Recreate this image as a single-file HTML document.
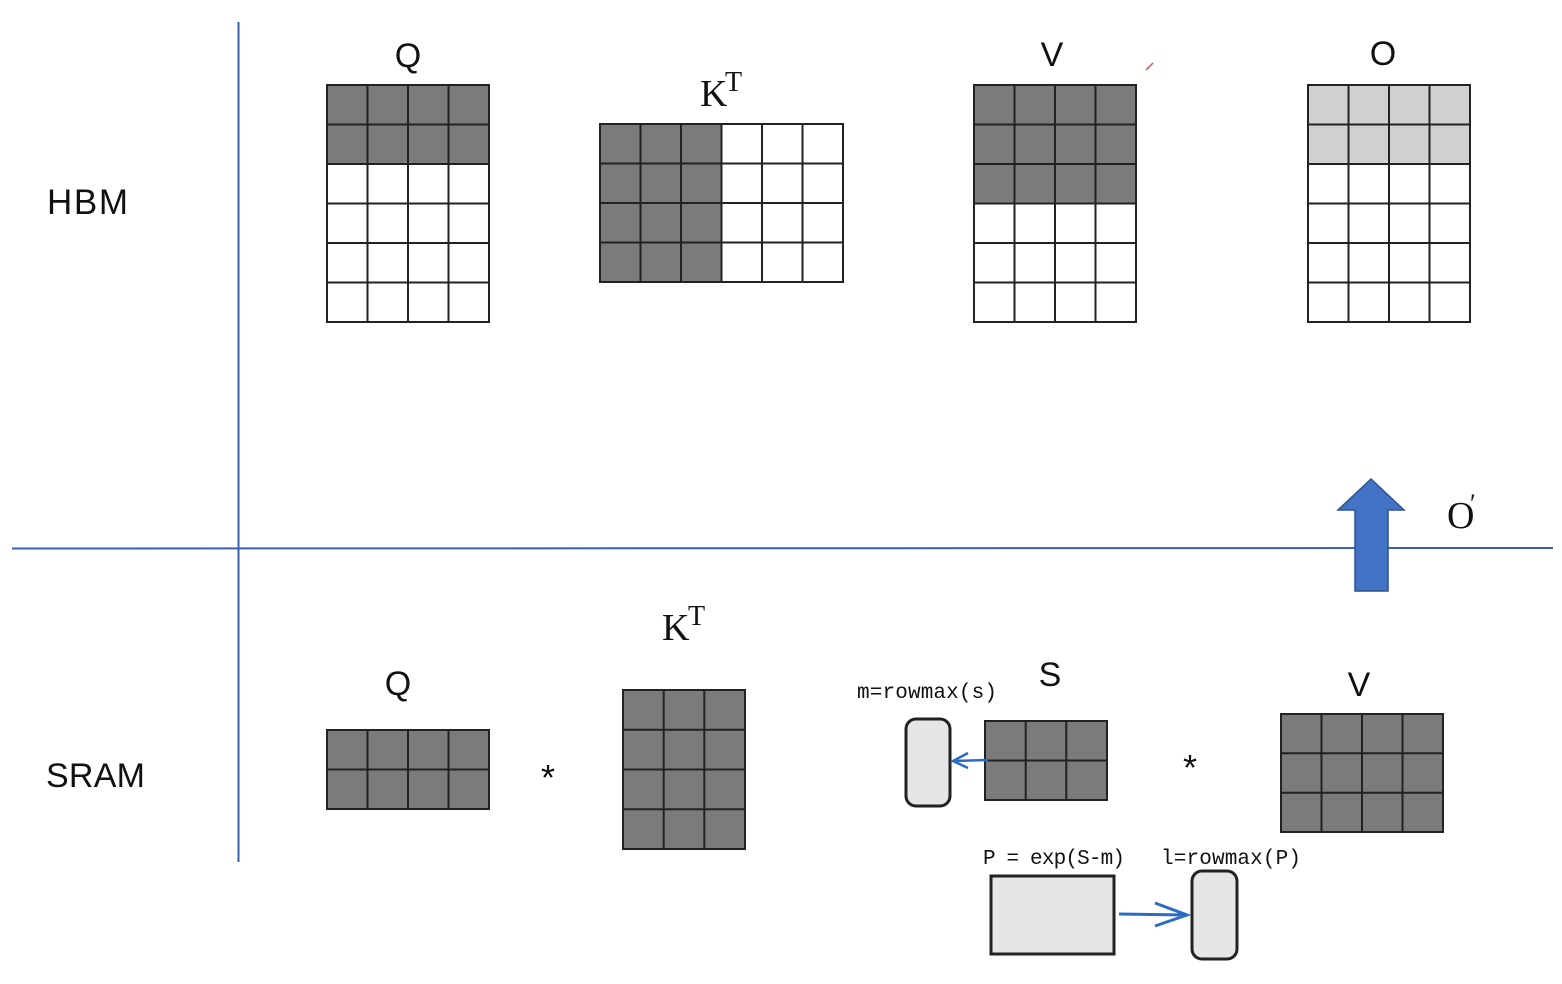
<!DOCTYPE html>
<html><head><meta charset="utf-8"><style>
html,body{margin:0;padding:0;background:#fff;}
svg{display:block}
.g{fill:none;stroke:#222;stroke-width:2}
.s{font-family:"Liberation Sans",sans-serif;fill:#111}
.r{font-family:"Liberation Serif",serif;fill:#111}
.m{font-family:"Liberation Mono",monospace;fill:#111;font-size:21px}
</style></head><body>
<svg width="1562" height="984" viewBox="0 0 1562 984" xmlns="http://www.w3.org/2000/svg">
<rect width="1562" height="984" fill="#fff"/>
<line x1="238.5" y1="22" x2="238.5" y2="862" stroke="#3a5fb0" stroke-width="2"/>
<line x1="12" y1="548.5" x2="1553" y2="548" stroke="#3a5fb0" stroke-width="2"/>

<rect x="327" y="85" width="162" height="79" fill="#7b7b7b"/>
<rect x="327" y="85" width="162" height="237" class="g"/>
<path class="g" d="M367.5 85V322M408 85V322M448.5 85V322M327 124.5H489M327 164H489M327 203.5H489M327 243H489M327 282.5H489"/>
<rect x="600" y="124" width="121.5" height="158" fill="#7b7b7b"/>
<rect x="600" y="124" width="243" height="158" class="g"/>
<path class="g" d="M640.5 124V282M681 124V282M721.5 124V282M762 124V282M802.5 124V282M600 163.5H843M600 203H843M600 242.5H843"/>
<rect x="974" y="85" width="162" height="118.5" fill="#7b7b7b"/>
<rect x="974" y="85" width="162" height="237" class="g"/>
<path class="g" d="M1014.5 85V322M1055 85V322M1095.5 85V322M974 124.5H1136M974 164H1136M974 203.5H1136M974 243H1136M974 282.5H1136"/>
<rect x="1308" y="85" width="162" height="79" fill="#d0d0d0"/>
<rect x="1308" y="85" width="162" height="237" class="g"/>
<path class="g" d="M1348.5 85V322M1389 85V322M1429.5 85V322M1308 124.5H1470M1308 164H1470M1308 203.5H1470M1308 243H1470M1308 282.5H1470"/>

<text x="408" y="67" text-anchor="middle" class="s" font-size="34">Q</text>
<text x="700" y="106" class="r" font-size="38">K</text>
<text x="725" y="91" class="r" font-size="28">T</text>
<text x="1052" y="66" text-anchor="middle" class="s" font-size="34">V</text>
<text x="1383" y="65" text-anchor="middle" class="s" font-size="34">O</text>
<text x="47" y="214" class="s" font-size="35" textLength="81">HBM</text>
<text x="46" y="787" class="s" font-size="34" textLength="99">SRAM</text>
<line x1="1146" y1="70" x2="1153" y2="63" stroke="#c55" stroke-width="1.5"/>

<path d="M1371 479L1404 510H1388V591H1355V510H1338Z" fill="#4472c4" stroke="#2f528f" stroke-width="1.5"/>
<text x="1447" y="528" class="r" font-size="38">O</text>
<text x="1470" y="512" class="r" font-size="26">′</text>

<rect x="327" y="730" width="162" height="79" class="g" style="fill:#7b7b7b"/>
<path class="g" d="M367.5 730V809M408 730V809M448.5 730V809M327 769.5H489"/>
<text x="398" y="695" text-anchor="middle" class="s" font-size="34">Q</text>
<text x="548" y="790" text-anchor="middle" class="s" font-size="36">*</text>
<rect x="623" y="690" width="122" height="159" class="g" style="fill:#7b7b7b"/>
<path class="g" d="M663.7 690V849M704.3 690V849M623 729.75H745M623 769.5H745M623 809.25H745"/>
<text x="662" y="640" class="r" font-size="38">K</text>
<text x="688" y="625" class="r" font-size="28">T</text>
<rect x="985" y="721" width="122" height="79" class="g" style="fill:#7b7b7b"/>
<path class="g" d="M1025.7 721V800M1066.3 721V800M985 760.5H1107"/>
<text x="1050" y="686" text-anchor="middle" class="s" font-size="34">S</text>
<text x="857" y="698" class="m" textLength="140">m=rowmax(s)</text>
<rect x="906" y="719" width="44" height="87" rx="10" fill="#e6e6e9" stroke="#222" stroke-width="3"/>
<path d="M988 760L953 761M968 753L953 761L968 768" fill="none" stroke="#2a6cc0" stroke-width="2.5"/>
<text x="1190" y="780" text-anchor="middle" class="s" font-size="36">*</text>
<rect x="1281" y="714" width="162" height="118" class="g" style="fill:#7b7b7b"/>
<path class="g" d="M1321.5 714V832M1362 714V832M1402.5 714V832M1281 753.3H1443M1281 792.7H1443"/>
<text x="1359" y="696" text-anchor="middle" class="s" font-size="34">V</text>
<text x="983" y="864" class="m" textLength="142">P = exp(S-m)</text>
<text x="1161" y="864" class="m" textLength="140">l=rowmax(P)</text>
<rect x="991" y="876" width="123" height="78" fill="#e6e6e9" stroke="#222" stroke-width="3"/>
<rect x="1192" y="871" width="45" height="88" rx="10" fill="#e6e6e9" stroke="#222" stroke-width="3"/>
<path d="M1119 914L1187 915M1155 903L1187 915L1155 926" fill="none" stroke="#2a6cc0" stroke-width="3"/>
</svg>
</body></html>
